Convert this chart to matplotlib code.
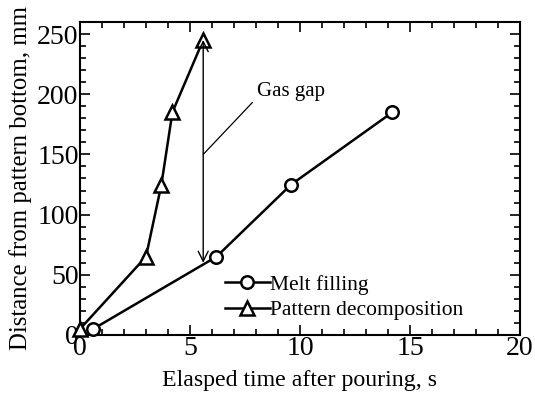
import matplotlib
matplotlib.use("Agg")
import matplotlib.pyplot as plt
from matplotlib.ticker import MultipleLocator

plt.rcParams['font.family'] = ['Liberation Serif', 'DejaVu Serif']

melt_t = [0.6, 6.2, 9.6, 14.2]
melt_d = [5, 65, 125, 185]
pat_t = [0.0, 3.0, 3.7, 4.2, 5.6]
pat_d = [5, 65, 125, 185, 245]
gap_x = 5.6
gap_lo, gap_hi = 60, 245

fig = plt.figure(figsize=(5.35, 3.94), dpi=100)
ax = fig.add_axes([80/535, 1-335/394, 440/535, 313/394])

ax.plot(melt_t, melt_d, '-o', color='black', lw=1.8, ms=9, mfc='white',
        mec='black', mew=1.8, label='Melt filling', clip_on=False, zorder=3)
ax.plot(pat_t, pat_d, '-^', color='black', lw=1.8, ms=10.5, mfc='white',
        mec='black', mew=1.8, label='Pattern decomposition', clip_on=False, zorder=3)

ax.annotate('', xy=(gap_x, gap_hi), xytext=(gap_x, gap_lo),
            arrowprops=dict(arrowstyle='<->', color='black', lw=1.0,
                            mutation_scale=18, shrinkA=0, shrinkB=0))
ax.annotate('Gas gap', xy=(gap_x, 150), xytext=(8.05, 202), fontsize=15,
            va='center', ha='left',
            arrowprops=dict(arrowstyle='-', color='black', lw=0.9,
                            shrinkA=2, shrinkB=0,
                            relpos=(0, 0.2)))

ax.set_xlim(0, 20)
ax.set_ylim(0, 260)
ax.xaxis.set_major_locator(MultipleLocator(5))
ax.xaxis.set_minor_locator(MultipleLocator(1))
ax.yaxis.set_major_locator(MultipleLocator(50))
ax.yaxis.set_minor_locator(MultipleLocator(10))
ax.tick_params(which='both', direction='in', top=True, right=True,
               labelsize=20, width=1.2)
ax.tick_params(axis='x', pad=1)
ax.tick_params(axis='y', pad=1)
ax.tick_params(which='major', length=7)
ax.tick_params(which='minor', length=4)
for s in ax.spines.values():
    s.set_linewidth(1.5)

ax.set_xlabel('Elasped time after pouring, s', fontsize=17.2, labelpad=6)
ax.set_ylabel('Distance from pattern bottom, mm', fontsize=17.8, labelpad=4)

ax.legend(loc='lower left', bbox_to_anchor=(134/440, 4/313), frameon=False,
          fontsize=15.5, handlelength=2.1, handletextpad=0.0, labelspacing=0.25,
          borderpad=0)

fig.savefig('out.png', dpi=100)
